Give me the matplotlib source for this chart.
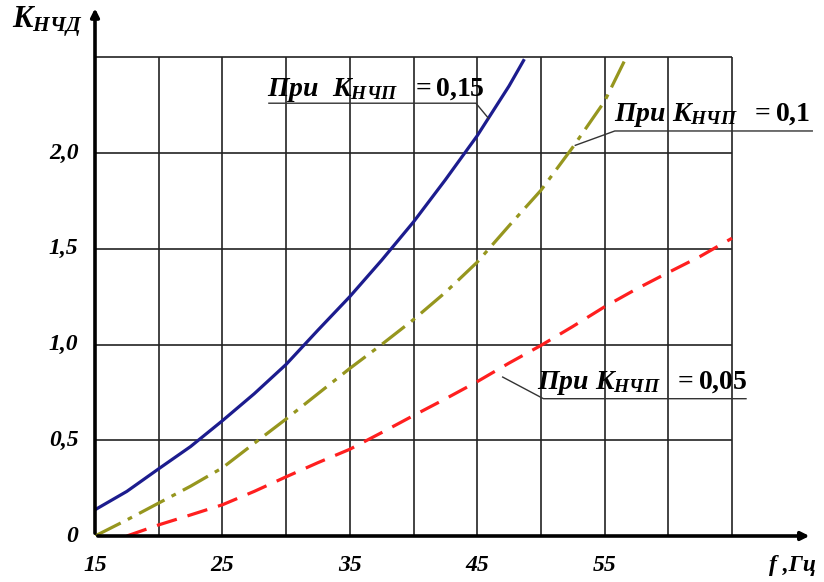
import numpy as np
import matplotlib
matplotlib.use('Agg')
import matplotlib.pyplot as plt

# curves: frequency f (Hz) -> K_НЧД
f_015 = [15, 17.5, 20, 22.5, 25, 27.5, 30, 32.5, 35, 37.5, 40, 42.5, 45, 47.5, 48.7]
k_015 = [0.137, 0.233, 0.351, 0.467, 0.602, 0.743, 0.896, 1.075, 1.25, 1.44,
         1.64, 1.86, 2.09, 2.35, 2.49]

f_010 = [15, 17.5, 20, 22.5, 25, 27.5, 30, 32.5, 35, 37.5, 40, 42.5, 45, 47.5,
         50, 52.5, 55, 56.7]
k_010 = [0.0, 0.084, 0.172, 0.26, 0.356, 0.484, 0.611, 0.743, 0.875, 1.0,
         1.13, 1.272, 1.43, 1.62, 1.805, 2.03, 2.27, 2.5]

f_005 = [17.5, 20, 22.5, 25, 27.5, 30, 32.5, 35, 37.5, 40, 42.5, 45, 47.5,
         50, 52.5, 55, 57.5, 60, 62.5, 65]
k_005 = [0.0, 0.058, 0.11, 0.163, 0.233, 0.309, 0.383, 0.453, 0.54, 0.629,
         0.716, 0.806, 0.903, 0.995, 1.094, 1.197, 1.29, 1.376, 1.46, 1.555]

x_grid = [20, 25, 30, 35, 40, 45, 50, 55, 60, 65]
y_grid = [0.5, 1.0, 1.5, 2.0, 2.5]
x_ticks = [15, 25, 35, 45, 55]
x_labels = ['15', '25', '35', '45', '55']
y_ticks = [0, 0.5, 1.0, 1.5, 2.0]
y_labels = ['0', '0,5', '1,0', '1,5', '2,0']

plt.rcParams['mathtext.fontset'] = 'custom'
plt.rcParams['mathtext.it'] = 'Liberation Serif:italic:bold'
plt.rcParams['mathtext.rm'] = 'Liberation Serif:bold'
plt.rcParams['mathtext.bf'] = 'Liberation Serif:bold'

fnt = dict(family='Liberation Serif', style='italic', weight='bold')

fig = plt.figure(figsize=(8.24, 5.82), dpi=100)
ax = fig.add_axes([95/824, 46/582, 720/824, 528/582])
ax.set_xlim(15, 15 + 720/12.74)
ax.set_ylim(0, 528/191.5)
ax.axis('off')

# grid
ax.vlines(x_grid, 0, 2.5, color='#222222', lw=1.2)
ax.hlines(y_grid, 15, 65, color='#222222', lw=1.2)

# axes with arrows
ax.annotate('', xy=(15, 2.77), xytext=(15, 0), xycoords='data',
            arrowprops=dict(arrowstyle='-|>', color='black', lw=2.6,
                            mutation_scale=12), annotation_clip=False)
ax.annotate('', xy=(71.3, 0), xytext=(15, 0), xycoords='data',
            arrowprops=dict(arrowstyle='-|>', color='black', lw=2.6,
                            mutation_scale=12), annotation_clip=False)

# curves
ax.plot(f_015, k_015, color='#1c1c8e', lw=2.3, solid_capstyle='butt')
ax.plot(f_010, k_010, color='#96961e', lw=2.3, dashes=(9, 2.5, 1.5, 2.5))
ax.plot(f_005, k_005, color='#ff1f1f', lw=2.3, dashes=(6.5, 3.5))

# tick labels
for x, s in zip(x_ticks, x_labels):
    ax.text(x, -0.155, s, ha='center', va='center', fontsize=17, **fnt)
for y, s in zip(y_ticks, y_labels):
    ax.text(13.7, y, s, ha='right', va='center', fontsize=17, **fnt)
fig.text(816/824, 1 - 565/582, 'f ,Гц', ha='right', va='center',
         fontsize=17, **fnt)
fig.text(12/824, 1 - 22/582, r'$\mathit{K}_{\mathit{НЧД}}$', ha='left', va='center',
         fontsize=22)

# annotations
lc = '#333333'
ax.text(28.5, 2.33, r'$\mathit{При\ \ K}_{\mathit{НЧП}}\ \ \mathrm{= 0{,}15}$',
        ha='left', va='center', fontsize=20)
ax.plot([28.65, 44.9, 45.9], [2.26, 2.26, 2.18], color=lc, lw=1.0)

ax.text(55.7, 2.2, r'$\mathit{При\ K}_{\mathit{НЧП}}\ \ \mathrm{= 0{,}1}$',
        ha='left', va='center', fontsize=20)
ax.plot([71.3, 55.8, 52.7], [2.115, 2.115, 2.04], color=lc, lw=1.0)

ax.text(49.7, 0.80, r'$\mathit{При\ K}_{\mathit{НЧП}}\ \ \mathrm{= 0{,}05}$',
        ha='left', va='center', fontsize=20)
ax.plot([66.1, 50.2, 47.0], [0.717, 0.717, 0.83], color=lc, lw=1.0)

fig.savefig('out.png', dpi=100)
